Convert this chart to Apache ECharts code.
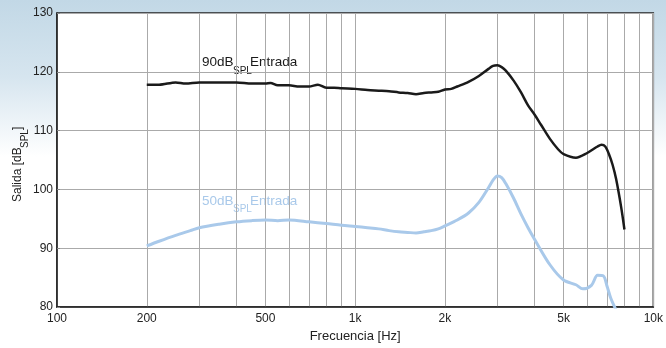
<!DOCTYPE html>
<html>
<head>
<meta charset="utf-8">
<script src="https://cdn.jsdelivr.net/npm/echarts@6/dist/echarts.min.js"></script>
<style>
  html, body { margin: 0; padding: 0; }
  #chart { width: 666px; height: 348px; }
</style>
</head>
<body>
<div id="chart"></div>
<script>
  // frecuencias [Hz] y salida [dB SPL]
  var blackFreq = [200, 220, 250, 270, 300, 350, 400, 450, 500, 520, 550, 600, 650, 700, 750, 800, 850, 900,
    1000, 1100, 1200, 1300, 1400, 1500, 1600, 1700, 1800, 1900, 2000, 2100, 2200, 2400, 2600, 2800, 2900,
    3000, 3100, 3200, 3400, 3600, 3800, 4000, 4200, 4500, 4800, 5000, 5500, 6000, 6500, 6700, 6900, 7100,
    7300, 7500, 7800, 8000];
  var blackSpl = [117.8, 117.8, 118.2, 118.0, 118.2, 118.2, 118.2, 118.0, 118.0, 118.1, 117.7, 117.7, 117.5,
    117.5, 117.8, 117.3, 117.3, 117.2, 117.1, 116.9, 116.8, 116.7, 116.5, 116.4, 116.2, 116.4, 116.5, 116.6,
    117.0, 117.1, 117.5, 118.3, 119.3, 120.5, 121.0, 121.1, 120.8, 120.2, 118.5, 116.5, 114.3, 112.7, 111.0,
    108.6, 106.8, 106.0, 105.4, 106.2, 107.3, 107.6, 107.3, 106.0, 104.2, 101.8, 97.0, 93.2];

  var blueFreq = [200, 220, 250, 280, 300, 350, 400, 450, 500, 550, 600, 700, 800, 900, 1000, 1100, 1200,
    1300, 1400, 1500, 1600, 1700, 1800, 1900, 2000, 2200, 2400, 2600, 2800, 2900, 3000, 3100, 3200, 3400,
    3600, 3800, 4000, 4500, 5000, 5500, 5800, 6200, 6500, 6800, 7000, 7200, 7500];
  var blueSpl = [90.4, 91.2, 92.2, 93.0, 93.5, 94.1, 94.5, 94.7, 94.8, 94.7, 94.8, 94.5, 94.2, 93.9, 93.7,
    93.5, 93.3, 93.0, 92.8, 92.7, 92.6, 92.8, 93.0, 93.3, 93.8, 94.8, 96.0, 97.8, 100.3, 101.6, 102.3, 102.0,
    101.0, 98.5, 95.8, 93.5, 91.5, 87.2, 84.6, 83.8, 83.1, 83.7, 85.4, 85.3, 83.5, 81.5, 79.5];

  var gridFreqs = [100, 200, 300, 400, 500, 600, 700, 800, 900, 1000, 2000, 3000, 4000, 5000, 6000,
    7000, 8000, 9000, 10000];
  var labelFreqs = [100, 200, 500, 1000, 2000, 5000, 10000];

  function pairs(xs, ys) {
    var out = [];
    for (var i = 0; i < xs.length; i++) {
      out.push([xs[i], ys[i]]);
    }
    return out;
  }

  var myChart = echarts.init(document.getElementById('chart'));

  var font = 'Liberation Sans, Arial, sans-serif';
  var black = '#1a1a1a';
  var blue = '#a9c9ea';

  // un trozo de texto suelto (para poder bajar el subindice)
  function txt(str, x, y, size, color, rot) {
    return {
      type: 'text', x: x, y: y, rotation: rot || 0,
      style: {
        text: str, fill: color, fontSize: size, fontFamily: font,
        align: 'left', verticalAlign: 'middle'
      }
    };
  }

  var option = {
    animation: false,
    backgroundColor: {
      type: 'linear', x: 0, y: 0, x2: 0, y2: 1,
      colorStops: [
        { offset: 0, color: '#c2d8e6' },
        { offset: 0.22, color: '#d6e5ef' },
        { offset: 0.45, color: '#ffffff' },
        { offset: 1, color: '#ffffff' }
      ]
    },
    grid: {
      left: 57, right: 11, top: 13, bottom: 36,
      show: true,
      backgroundColor: '#ffffff',
      borderColor: '#222',
      borderWidth: 1.5
    },
    xAxis: {
      type: 'log',
      logBase: 10,
      min: 100,
      max: 10000,
      name: 'Frecuencia [Hz]',
      nameLocation: 'middle',
      nameGap: 22,
      nameTextStyle: { fontFamily: font, fontSize: 13, color: '#222' },
      axisLine: { lineStyle: { color: '#222', width: 1.5 } },
      axisTick: { show: false, customValues: gridFreqs },
      axisLabel: {
        customValues: labelFreqs,
        fontFamily: font, fontSize: 12, color: '#222', margin: 6,
        formatter: function (v) {
          return v >= 1000 ? (v / 1000) + 'k' : String(v);
        }
      },
      splitLine: { show: true, lineStyle: { color: '#aaaaaa', width: 1 } }
    },
    yAxis: {
      type: 'value',
      min: 80,
      max: 130,
      interval: 10,
      axisLine: { show: true, lineStyle: { color: '#222', width: 1.5 } },
      axisTick: { show: true, inside: true, length: 3, lineStyle: { color: '#888' } },
      axisLabel: { fontFamily: font, fontSize: 12, color: '#222', margin: 4 },
      splitLine: { show: true, lineStyle: { color: '#aaaaaa', width: 1 } }
    },
    graphic: [
      txt('90dB', 202, 62, 13.5, black),
      txt('SPL', 233, 71, 10, black),
      txt('Entrada', 250, 62, 13.5, black),
      txt('50dB', 202, 201, 13.5, blue),
      txt('SPL', 233, 209, 10, blue),
      txt('Entrada', 250, 201, 13.5, blue),
      txt('Salida [dB', 18, 202, 12, '#222', Math.PI / 2),
      txt('SPL', 25, 148, 10, '#222', Math.PI / 2),
      txt(']', 18, 130, 12, '#222', Math.PI / 2)
    ],
    series: [
      {
        name: '90dB SPL Entrada',
        type: 'line',
        data: pairs(blackFreq, blackSpl),
        showSymbol: false,
        smooth: 0.3,
        lineStyle: { color: black, width: 2.5 },
        z: 3
      },
      {
        name: '50dB SPL Entrada',
        type: 'line',
        data: pairs(blueFreq, blueSpl),
        showSymbol: false,
        smooth: 0.3,
        clip: true,
        lineStyle: { color: blue, width: 3 },
        z: 2
      }
    ]
  };

  myChart.setOption(option);
</script>
</body>
</html>
